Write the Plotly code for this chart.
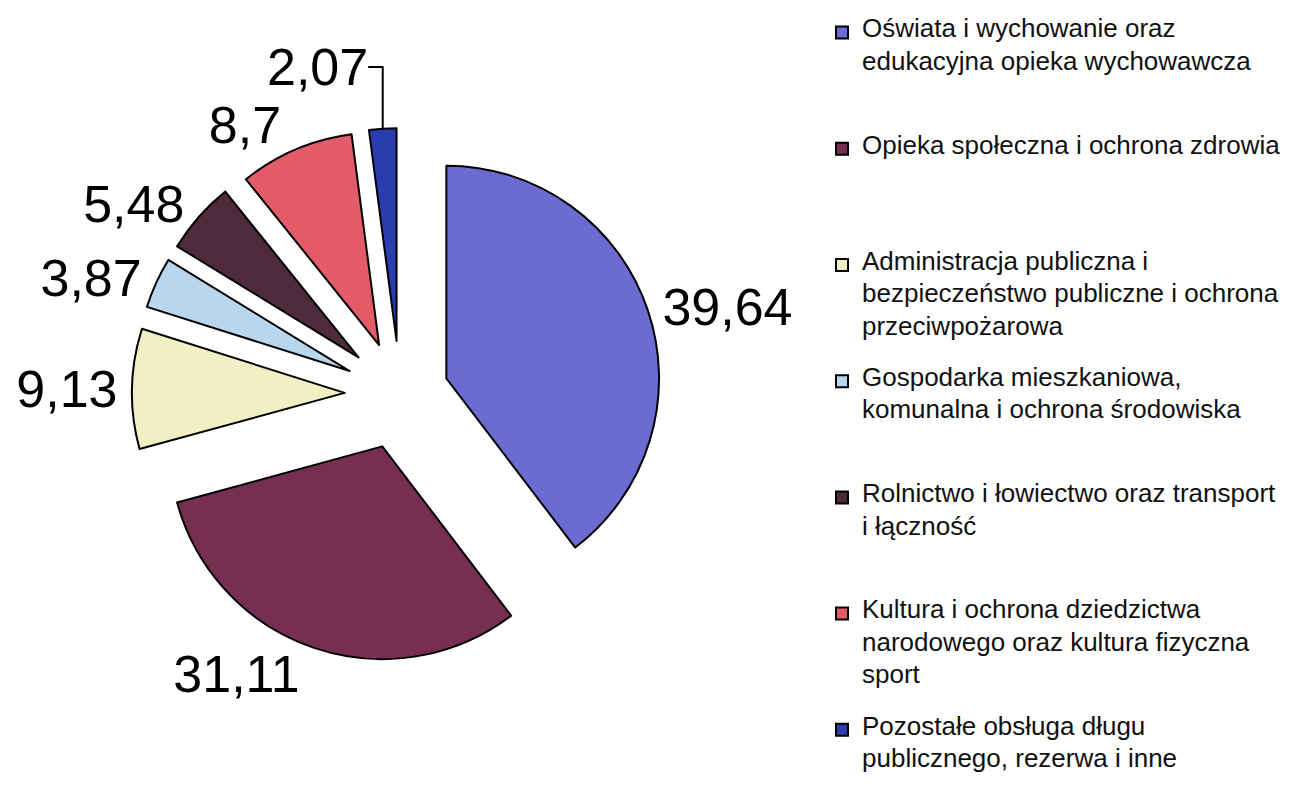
import plotly.graph_objects as go

# ---- data ----
categories = [
    "Oświata i wychowanie oraz<br>edukacyjna opieka wychowawcza",
    "Opieka społeczna i ochrona zdrowia",
    "Administracja publiczna i<br>bezpieczeństwo publiczne i ochrona<br>przeciwpożarowa",
    "Gospodarka mieszkaniowa,<br>komunalna i ochrona środowiska",
    "Rolnictwo i łowiectwo oraz transport<br>i łączność",
    "Kultura i ochrona dziedzictwa<br>narodowego oraz kultura fizyczna<br>sport",
    "Pozostałe obsługa długu<br>publicznego, rezerwa i inne",
]
values = [39.64, 31.11, 9.13, 3.87, 5.48, 8.7, 2.07]

# ---- style ----
colors = ["#6b6bd1", "#762f52", "#f1efc4", "#b8d7ef", "#4f2a3c", "#e35b69", "#2a3db0"]
pulls = [0.23, 0.26, 0.26, 0.26, 0.26, 0.25, 0.25]

LEG_TEXT_PX = 26
LINES_PER_ITEM = 7


def legend_label(cat, last):
    lines = cat.split("<br>")
    styled = ["<span style=\"font-size:%dpx\">%s</span>" % (LEG_TEXT_PX, ln) for ln in lines]
    s = "<br><br>".join(styled)
    used = 2 * len(lines) - 1
    pad = 1 if last else (LINES_PER_ITEM - used)
    s += "<br> " * pad
    return s


leg_labels = [legend_label(c, i == len(categories) - 1) for i, c in enumerate(categories)]
texts = [("%g" % v).replace(".", ",") for v in values]

W, H = 1291, 785
cx, cy, half = 392, 386, 268

fig = go.Figure(
    go.Pie(
        labels=leg_labels,
        values=values,
        text=texts,
        textinfo="text",
        textposition="outside",
        sort=False,
        direction="clockwise",
        rotation=0,
        pull=pulls,
        marker=dict(colors=colors, line=dict(color="#000000", width=2)),
        outsidetextfont=dict(family="Liberation Sans, Arial, sans-serif", size=52, color="#000000"),
        domain=dict(x=[(cx - half) / W, (cx + half) / W], y=[1 - (cy + half) / H, 1 - (cy - half) / H]),
        automargin=False,
        hoverinfo="label+value",
    )
)

fig.update_layout(
    width=W,
    height=H,
    margin=dict(l=0, r=0, t=0, b=0),
    paper_bgcolor="white",
    plot_bgcolor="white",
    showlegend=True,
    legend=dict(
        x=814 / W,
        xanchor="left",
        y=1 - 13 / H,
        yanchor="top",
        valign="top",
        font=dict(family="Liberation Sans, Arial, sans-serif", size=12.44, color="#111111"),
        bgcolor="rgba(0,0,0,0)",
        traceorder="normal",
    ),
)

fig.write_html("out.html")
